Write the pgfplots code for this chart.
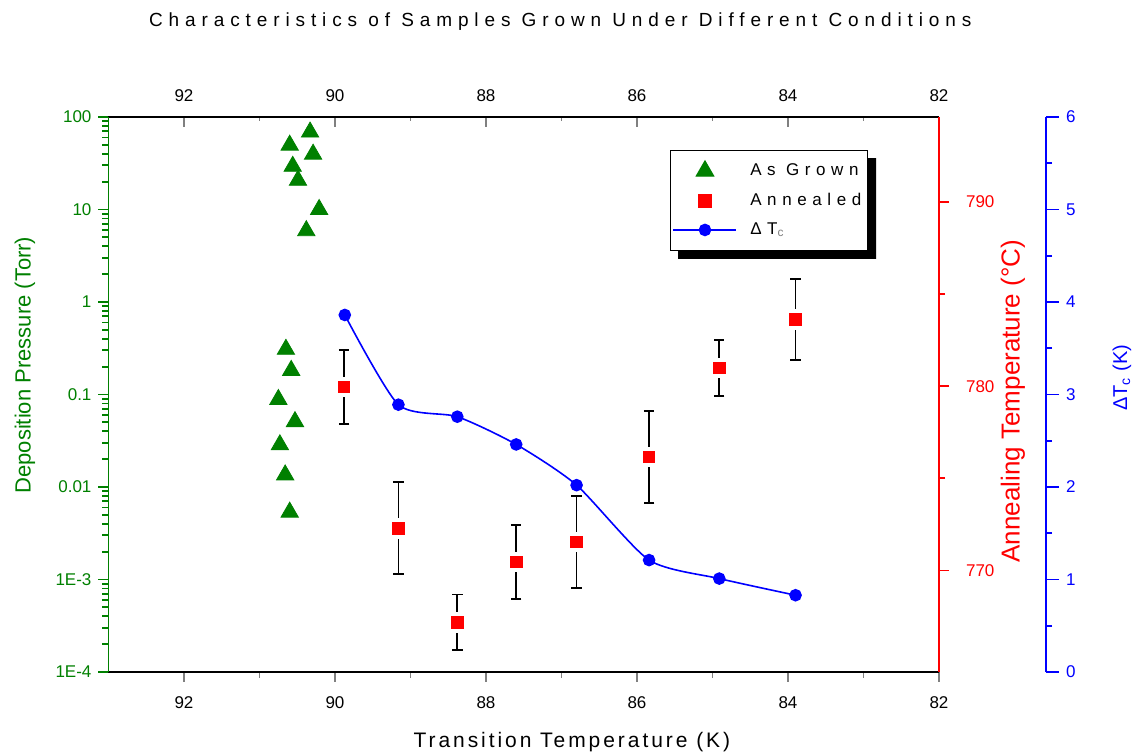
\documentclass[border=0pt]{standalone}
\usepackage{pgfplots}
\pgfplotsset{compat=1.18}
\usepackage{pgfplotstable}
\usepackage{fontspec}
\setmainfont{Liberation Sans}
\newfontfamily\titlefont[LetterSpace=31]{Liberation Sans}
\newfontfamily\legfont[LetterSpace=33]{Liberation Sans}
\newfontfamily\xlabfont[LetterSpace=14]{Liberation Sans}
\definecolor{ogreen}{RGB}{0,128,0}
\definecolor{ored}{RGB}{255,0,0}
\definecolor{oblue}{RGB}{0,0,255}

\pgfplotstableread{
x y
90.60 49.6
90.33 68.7
90.29 39.6
90.56 29.3
90.49 20.7
90.21 10.0
90.38 5.9
90.65 0.308
90.58 0.182
90.75 0.0883
90.53 0.0509
90.73 0.0286
90.66 0.0135
90.60 0.00535
}\grown

\pgfplotstableread{
x y e
89.88 779.96 2.0
89.16 772.3 2.5
88.38 767.2 1.5
87.60 770.47 2.0
86.80 771.55 2.5
85.84 776.16 2.5
84.91 780.99 1.5
83.90 783.6 2.2
}\annealed

\pgfplotstableread{
x y
89.87 3.86
89.16 2.89
88.38 2.76
87.60 2.46
86.80 2.02
85.84 1.21
84.91 1.01
83.90 0.83
}\dtc

\pgfplotsset{
  base/.style={
    scale only axis, width=415.25pt, height=277.5pt,
    major tick length=5pt, minor tick length=3pt,
    tick style={line width=0.9pt},
    tick label style={font=\fontsize{8.5}{10}\selectfont},
    /pgf/number format/assume math mode=true,
    clip=false,
  },
  datax/.style={base, x dir=reverse, xmin=82, xmax=93},
  scalex/.style={base, xmin=0, xmax=1, axis x line=none},
}

\begin{document}
\begin{tikzpicture}
% bottom x axis, triangles, title, xlabel
\begin{axis}[datax,
  ymode=log, ymin=1e-4, ymax=100,
  axis x line=bottom, axis y line=none,
  x axis line style={-, line width=0.9pt},
  xtick={82,84,86,88,90,92}, xticklabels={82,84,86,88,90,92},
  xticklabel style={yshift=-4pt},
  minor x tick num=1, xtick align=outside,
  xlabel={\xlabfont Transition Temperature (K)},
  xlabel style={at={(axis description cs:0.558,-0.1261)}, anchor=center, font=\fontsize{10.5}{12}\selectfont},
  title={\titlefont Characteristics of Samples Grown Under Different Conditions},
  title style={at={(axis description cs:0.544,1.15)}, anchor=center, yshift=0pt, font=\fontsize{9.5}{11}\selectfont},
]
\addplot[only marks, mark=triangle*, mark size=5pt, color=ogreen] table {\grown};
\end{axis}
% top x axis
\begin{axis}[datax, ymin=0, ymax=1,
  axis x line=top, axis y line=none,
  x axis line style={-, line width=0.9pt},
  xtick={82,84,86,88,90,92}, xticklabels={82,84,86,88,90,92},
  xticklabel style={yshift=4pt},
  minor x tick num=1, xtick align=inside, minor tick length=2pt,
]
\end{axis}
% green scale
\begin{axis}[scalex, ymode=log, ymin=1e-4, ymax=100,
  axis y line=left, ytick align=outside,
  ytick={1e-4,1e-3,0.01,0.1,1,10,100},
  yticklabels={1E-4,1E-3,0.01,0.1,1,10,100},
  minor ytick={2e-4,3e-4,4e-4,5e-4,6e-4,7e-4,8e-4,9e-4,
    2e-3,3e-3,4e-3,5e-3,6e-3,7e-3,8e-3,9e-3,
    0.02,0.03,0.04,0.05,0.06,0.07,0.08,0.09,
    0.2,0.3,0.4,0.5,0.6,0.7,0.8,0.9,
    2,3,4,5,6,7,8,9,20,30,40,50,60,70,80,90},
  y axis line style={-, ogreen, line width=0.9pt},
  ytick style={ogreen},
  yticklabel style={ogreen},
  ylabel={Deposition Pressure (Torr)},
  ylabel style={at={(axis description cs:-0.1005,0.553)}, anchor=center, ogreen, font=\fontsize{11}{13}\selectfont},
]
\end{axis}
% red data
\begin{axis}[datax, ymin=764.5, ymax=794.6, axis lines=none]
\addplot[only marks, mark=square*, mark size=4.2pt, color=ored,
  mark options={fill=ored, draw=white, line width=2pt},
  error bars/.cd, y dir=both, y explicit,
  error bar style={black, draw=black, line width=0.9pt},
  error mark=|,
  error mark options={black, draw=black, fill=black, mark size=2.6pt, line width=0.9pt}]
  table[x=x, y=y, y error=e] {\annealed};
\end{axis}
% red scale
\begin{axis}[scalex, ymin=764.5, ymax=794.6,
  axis y line=right, ytick align=outside,
  ytick={770,780,790}, yticklabels={770,780,790}, minor ytick={775,785},
  y axis line style={-, ored, line width=0.9pt},
  ytick style={ored},
  yticklabel style={ored},
  yticklabel shift=5pt,
  ylabel={Annealing Temperature (°C)},
  ylabel style={at={(axis description cs:1.0891,0.488)}, anchor=center, ored, font=\fontsize{13}{15}\selectfont},
]
\end{axis}
% blue data + legend
\begin{axis}[datax, ymin=0, ymax=6, axis lines=none,
  legend cell align=left,
  legend style={name=leg, at={(0.9145,0.9405)}, anchor=north east, draw=black, line width=0.6pt, fill=white,
     font=\fontsize{8.5}{10}\selectfont\legfont,
     inner xsep=1pt, inner ysep=4.5pt, row sep=3.2pt, column sep=4.5pt},
  legend image code/.code={\draw[mark repeat=2,mark phase=2] plot coordinates {(0pt,0pt) (15.75pt,0pt) (31.5pt,0pt)};},
]
\addlegendimage{only marks, mark=triangle*, mark size=5pt, color=ogreen}
\addlegendentry{As Grown}
\addlegendimage{only marks, mark=square*, mark size=3.2pt, color=ored}
\addlegendentry{Annealed}
\addplot[oblue, line width=0.8pt, smooth, tension=0.4, mark=*, mark size=2.75pt, mark options={fill=oblue}] table {\dtc};
\addlegendentry{ΔT\textsubscript{\textcolor{gray}{c}}}
\end{axis}
\fill[black] ([yshift=-4pt]leg.north east) -- ([xshift=4pt,yshift=-4pt]leg.north east)
  -- ([xshift=4pt,yshift=-4pt]leg.south east) -- ([xshift=4pt,yshift=-4pt]leg.south west)
  -- ([xshift=4pt]leg.south west) -- (leg.south east) -- cycle;
% blue scale, shifted right
\begin{axis}[scalex, at={(53.5pt,0pt)}, ymin=0, ymax=6,
  axis y line=right, ytick align=outside, major tick length=6.5pt,
  ytick={0,1,2,3,4,5,6}, yticklabels={0,1,2,3,4,5,6}, minor y tick num=1,
  y axis line style={-, oblue, line width=0.9pt},
  ytick style={oblue},
  yticklabel style={oblue},
  ylabel={ΔT\textsubscript{c} (K)},
  ylabel style={at={(axis description cs:1.0915,0.53)}, anchor=center, oblue, font=\fontsize{10}{12}\selectfont},
]
\end{axis}
\pgfresetboundingbox
\useasboundingbox (-54.25pt,-41.5pt) rectangle (512.75pt,336pt);
\end{tikzpicture}
\end{document}
